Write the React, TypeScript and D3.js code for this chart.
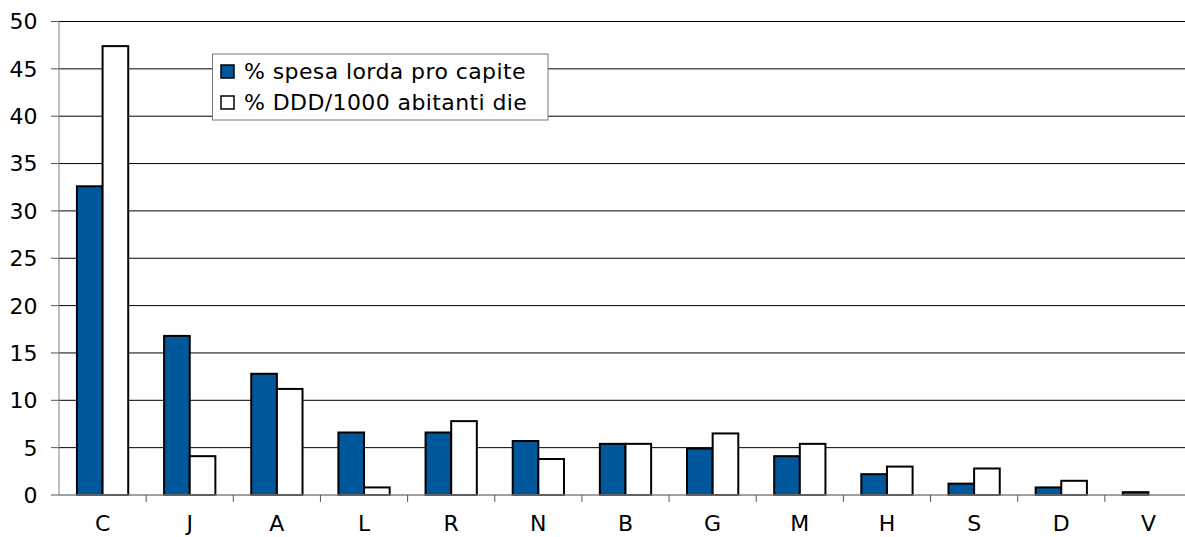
import React from "react";
import * as d3 from "d3";

const categories = ["C", "J", "A", "L", "R", "N", "B", "G", "M", "H", "S", "D", "V"];
const spesa = [32.6, 16.8, 12.8, 6.6, 6.6, 5.7, 5.4, 4.9, 4.1, 2.2, 1.2, 0.8, 0.3];
const ddd = [47.4, 4.1, 11.2, 0.8, 7.8, 3.8, 5.4, 6.5, 5.4, 3.0, 2.8, 1.5, 0];
const yTicks = [0, 5, 10, 15, 20, 25, 30, 35, 40, 45, 50];
const seriesNames = ["% spesa lorda pro capite", "% DDD/1000 abitanti die"];

const W = 1185;
const H = 537;
const left = 59;
const right = 1192;
const top = 21.5;
const bottom = 495;
const FONT = "Verdana, 'DejaVu Sans', sans-serif";
const BLUE = "#00589c";

export default function App() {
  const x = d3.scaleBand<string>().domain(categories).range([left, right]).paddingInner(0).paddingOuter(0);
  const y = d3.scaleLinear().domain([0, 50]).range([bottom, top]);
  const bw = x.bandwidth();
  const inner = d3.scaleBand<string>().domain(["a", "b"]).range([0, bw]).paddingInner(0).paddingOuter(0.7);
  const sub = inner.bandwidth();

  return (
    <svg width={W} height={H} style={{ position: "absolute", left: 0, top: 0, background: "#fff" }} fontFamily={FONT}>
      {yTicks.map((t) => (
        <g key={t}>
          {t > 0 && <line x1={left} x2={right} y1={y(t)} y2={y(t)} stroke="#000" strokeWidth={1} />}
          <line x1={51} x2={left} y1={y(t)} y2={y(t)} stroke="#555" strokeWidth={1} />
          <text x={37.5} y={y(t)} dy="0.36em" textAnchor="end" fontSize={22} fill="#000">{t}</text>
        </g>
      ))}
      <line x1={left} x2={left} y1={top} y2={bottom} stroke="#808080" strokeWidth={1} />
      {categories.map((c, i) => (
        <g key={c}>
          {spesa[i] > 0 && (
            <rect x={(x(c) as number) + (inner("a") as number)} y={y(spesa[i])} width={sub} height={bottom - y(spesa[i])} fill={BLUE} stroke="#000" strokeWidth={2} />
          )}
          {ddd[i] > 0 && (
            <rect x={(x(c) as number) + (inner("b") as number)} y={y(ddd[i])} width={sub} height={bottom - y(ddd[i])} fill="#fff" stroke="#000" strokeWidth={2} />
          )}
          <text x={(x(c) as number) + bw / 2} y={531} textAnchor="middle" fontSize={22} fill="#000">{c}</text>
        </g>
      ))}
      <line x1={left} x2={right} y1={bottom} y2={bottom} stroke="#808080" strokeWidth={1.5} />
      {categories.map((c) => (
        <line key={"t" + c} x1={(x(c) as number) + bw} x2={(x(c) as number) + bw} y1={bottom} y2={502} stroke="#555" strokeWidth={1} />
      ))}
      <g>
        <rect x={212.5} y={54} width={335.5} height={66} fill="#fff" stroke="#777" strokeWidth={1} />
        <rect x={221} y={65} width={13} height={13} fill={BLUE} stroke="#000" strokeWidth={1.5} />
        <rect x={221} y={96} width={13} height={13} fill="#fff" stroke="#000" strokeWidth={1.5} />
        <text x={244} y={71.5} dy="0.36em" fontSize={22} letterSpacing={0.4} fill="#000">{seriesNames[0]}</text>
        <text x={244} y={102.5} dy="0.36em" fontSize={22} letterSpacing={0.4} fill="#000">{seriesNames[1]}</text>
      </g>
    </svg>
  );
}
